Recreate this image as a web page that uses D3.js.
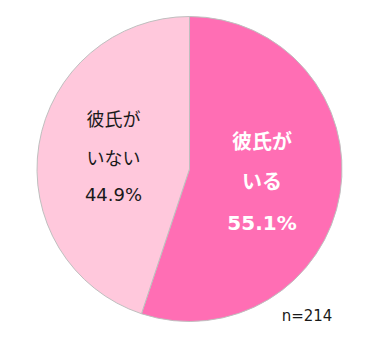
<!DOCTYPE html>
<html>
<head>
<meta charset="utf-8">
<script src="https://cdn.jsdelivr.net/npm/d3@7"></script>
<style>
  body { margin: 0; background: #fff; }
  svg { display: block; font-family: "DejaVu Sans", "Noto Sans CJK JP", sans-serif; }
</style>
</head>
<body>
<svg></svg>
<script>
// Slices, clockwise from 12 o'clock
var labels = [["彼氏が", "いる"], ["彼氏が", "いない"]];
var values = [55.1, 44.9];
var colors = ["#FF6EB4", "#FFC8DC"];
var sampleNote = "n=214";

var width = 374;
var height = 341;
var svg = d3.select("svg")
  .attr("width", width)
  .attr("height", height);

var cx = 189.5, cy = 169, radius = 152.5;

var pie = d3.pie().sort(null).value(function(d) { return d; });
var arcs = pie(values);
var arc = d3.arc().innerRadius(0).outerRadius(radius);

var g = svg.append("g").attr("transform", "translate(" + cx + "," + cy + ")");

g.selectAll("path")
  .data(arcs)
  .enter()
  .append("path")
    .attr("d", arc)
    .attr("fill", function(d, i) { return colors[i]; })
    .attr("stroke", "#BFBFBF")
    .attr("stroke-width", 1);

// label styles per slice; lines are offset from the slice centroid
var styles = [
  {fill: "#FFFFFF", weight: "bold", size: 20, r: 0.482, offs: [-39, 1, 42]},
  {fill: "#1A1A1A", weight: "normal", size: 18, r: 0.505, offs: [-37, 2, 37.5]}
];

arcs.forEach(function(d, i) {
  var s = styles[i];
  var c = d3.arc().innerRadius(radius * s.r).outerRadius(radius * s.r).centroid(d);
  var lines = labels[i].concat([d3.format(".1f")(values[i]) + "%"]);
  var t = g.append("text")
    .attr("text-anchor", "middle")
    .attr("fill", s.fill)
    .attr("font-weight", s.weight)
    .attr("font-size", s.size);
  lines.forEach(function(line, j) {
    t.append("tspan")
      .attr("x", c[0])
      .attr("y", c[1] + s.offs[j])
      .attr("dominant-baseline", "central")
      .text(line);
  });
});

svg.append("text")
  .attr("x", 307)
  .attr("y", 315.5)
  .attr("text-anchor", "middle")
  .attr("dominant-baseline", "central")
  .attr("font-size", 15)
  .attr("fill", "#1A1A1A")
  .text(sampleNote);
</script>
</body>
</html>
